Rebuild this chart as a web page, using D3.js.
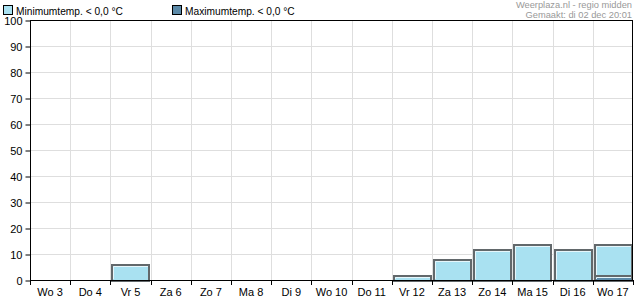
<!DOCTYPE html>
<html lang="nl">
<head>
<meta charset="UTF-8">
<title>Vorstkans</title>
<script src="https://d3js.org/d3.v7.min.js"></script>
<style>
  body { margin: 0; background: #fff; }
  text { font-family: "Liberation Sans", Arial, sans-serif; }
</style>
</head>
<body>
<script>
// dagen en kansen (%) op vorst
var days = ['Wo 3', 'Do 4', 'Vr 5', 'Za 6', 'Zo 7', 'Ma 8', 'Di 9', 'Wo 10', 'Do 11', 'Vr 12', 'Za 13', 'Zo 14', 'Ma 15', 'Di 16', 'Wo 17'];
var minTemp = [0, 0, 6, 0, 0, 0, 0, 0, 0, 2, 8, 12, 14, 12, 14];
var maxTemp = [0, 0, 0, 0, 0, 0, 0, 0, 0, 0, 0, 0, 0, 0, 2];
var yTicks = [0, 10, 20, 30, 40, 50, 60, 70, 80, 90, 100];

var width = 635, height = 300;
var margin = {top: 20, right: 2, bottom: 20, left: 30};

var svg = d3.select('body').append('svg')
    .attr('width', width)
    .attr('height', height);

var x = d3.scaleBand()
    .domain(days)
    .range([margin.left, width - margin.right]);
var y = d3.scaleLinear()
    .domain([0, 100])
    .range([height - margin.bottom, margin.top]);

// rasterlijnen
svg.append('g').selectAll('line.h')
    .data(yTicks)
    .enter().append('line')
    .attr('x1', margin.left).attr('x2', width - margin.right)
    .attr('y1', function(d) { return y(d) + 0.5; })
    .attr('y2', function(d) { return y(d) + 0.5; })
    .attr('stroke', '#dedede');
svg.append('g').selectAll('line.v')
    .data(days.slice(1))
    .enter().append('line')
    .attr('x1', function(d) { return Math.round(x(d)) + 0.5; })
    .attr('x2', function(d) { return Math.round(x(d)) + 0.5; })
    .attr('y1', margin.top).attr('y2', height - margin.bottom)
    .attr('stroke', '#dedede');

// staven
function drawBars(data, fill, cls) {
    var g = svg.append('g').attr('class', cls);
    var bars = g.selectAll('g')
        .data(data.map(function(v, i) { return {day: days[i], v: v}; })
            .filter(function(d) { return d.v > 0; }))
        .enter().append('g');
    bars.append('rect')
        .attr('x', function(d) { return Math.round(x(d.day)) + 2; })
        .attr('y', function(d) { return Math.round(y(d.v)) + 1; })
        .attr('width', Math.round(x.bandwidth()) - 3)
        .attr('height', function(d) { return Math.round(y(0) - y(d.v)); })
        .attr('fill', fill)
        .attr('stroke', '#62686b')
        .attr('stroke-width', 2);
    bars.append('path')
        .attr('d', function(d) {
            var x0 = Math.round(x(d.day)) + 3, y0 = Math.round(y(d.v)) + 2;
            var x1 = Math.round(x(d.day)) + Math.round(x.bandwidth()) - 2;
            var y1 = Math.round(y(0)) - 1;
            return 'M' + (x0 + 0.5) + ',' + y1 + 'V' + (y0 + 0.5) + 'H' + x1;
        })
        .attr('fill', 'none')
        .attr('stroke', '#e6f6fb')
        .attr('stroke-width', 1);
}
drawBars(minTemp, '#a9e1f1', 'min');
drawBars(maxTemp, '#5c8aa8', 'max');

// assen
svg.append('rect')
    .attr('x', margin.left + 0.5).attr('y', margin.top + 0.5)
    .attr('width', width - margin.right - margin.left - 1)
    .attr('height', height - margin.bottom - margin.top)
    .attr('fill', 'none').attr('stroke', '#000');

var yAxis = d3.axisLeft(y).tickValues(yTicks).tickSize(5).tickPadding(3);
var gy = svg.append('g')
    .attr('transform', 'translate(' + (margin.left + 0.5) + ',0.5)')
    .call(yAxis);
gy.select('.domain').remove();
gy.selectAll('text').attr('font-size', 11).attr('fill', '#000')
    .attr('font-family', '"Liberation Sans", Arial, sans-serif');

var xAxis = d3.axisBottom(x).tickSize(0).tickPadding(8);
var gx = svg.append('g')
    .attr('transform', 'translate(0,' + (height - margin.bottom) + ')')
    .call(xAxis);
gx.select('.domain').remove();
gx.selectAll('text').attr('font-size', 11).attr('fill', '#000')
    .attr('font-family', '"Liberation Sans", Arial, sans-serif');

// tickjes tussen de dagen
svg.append('g').selectAll('line')
    .data(days.concat(['end']))
    .enter().append('line')
    .attr('x1', function(d, i) { return Math.round(margin.left + i * x.step()) + 0.5; })
    .attr('x2', function(d, i) { return Math.round(margin.left + i * x.step()) + 0.5; })
    .attr('y1', height - margin.bottom)
    .attr('y2', height - margin.bottom + 5)
    .attr('stroke', '#000');

// legenda
var legend = [['Minimumtemp. < 0,0 °C', '#a9e1f1', 3], ['Maximumtemp. < 0,0 °C', '#5c8aa8', 172]];
var lg = svg.append('g').selectAll('g').data(legend).enter().append('g');
lg.append('rect')
    .attr('x', function(d) { return d[2] + 0.5; }).attr('y', 5.5)
    .attr('width', 9).attr('height', 9)
    .attr('fill', function(d) { return d[1]; })
    .attr('stroke', '#000');
lg.append('text')
    .attr('x', function(d) { return d[2] + 13; }).attr('y', 15)
    .attr('font-size', 10.2)
    .text(function(d) { return d[0]; });

// bron
svg.append('text')
    .attr('x', 632).attr('y', 8)
    .attr('text-anchor', 'end').attr('font-size', 9.3).attr('fill', '#999')
    .text('Weerplaza.nl - regio midden');
svg.append('text')
    .attr('x', 632).attr('y', 18)
    .attr('text-anchor', 'end').attr('font-size', 9.3).attr('fill', '#999')
    .text('Gemaakt: di 02 dec 20:01');
</script>
</body>
</html>
